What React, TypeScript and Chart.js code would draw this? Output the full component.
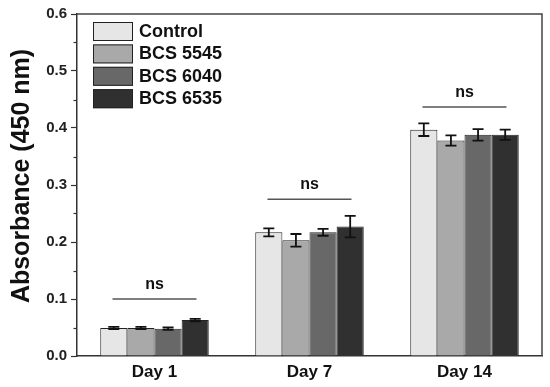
import React, { useEffect, useRef } from "react";
import { Chart, registerables } from "chart.js";

Chart.register(...registerables);

const categories = ["Day 1", "Day 7", "Day 14"];
const seriesNames = ["Control", "BCS 5545", "BCS 6040", "BCS 6535"];
const controlValues = [0.049, 0.217, 0.397];
const bcs5545Values = [0.049, 0.203, 0.378];
const bcs6040Values = [0.048, 0.217, 0.388];
const bcs6535Values = [0.063, 0.227, 0.388];
const controlErrors = [0.002, 0.007, 0.011];
const bcs5545Errors = [0.002, 0.011, 0.009];
const bcs6040Errors = [0.002, 0.006, 0.010];
const bcs6535Errors = [0.002, 0.019, 0.009];
const nsLevels = [0.1, 0.275, 0.437];
const nsLabels = ["ns", "ns", "ns"];
const yTicksMajor = [0, 0.1, 0.2, 0.3, 0.4, 0.5, 0.6];
const yTicksMinor = [0.05, 0.15, 0.25, 0.35, 0.45, 0.55];
const yTitle = "Absorbance (450 nm)";

const seriesValues = [controlValues, bcs5545Values, bcs6040Values, bcs6535Values];
const seriesErrors = [controlErrors, bcs5545Errors, bcs6040Errors, bcs6535Errors];
const fills = ["#e6e6e6", "#a9a9a9", "#686868", "#303030"];
const FONT = "'Liberation Sans', Arial, sans-serif";

const decorPlugin = {
  id: "decor",
  afterDatasetsDraw(chart: any) {
    const ctx = chart.ctx;
    const y = chart.scales.y;
    const x = chart.scales.x;
    ctx.save();
    ctx.strokeStyle = "#111";
    ctx.lineWidth = 1.8;
    chart.data.datasets.forEach((ds: any, di: number) => {
      const meta = chart.getDatasetMeta(di);
      meta.data.forEach((bar: any, i: number) => {
        const v = seriesValues[di][i];
        const e = seriesErrors[di][i];
        const yt = y.getPixelForValue(v + e);
        const yb = y.getPixelForValue(v - e);
        const cx = bar.x;
        const hw = 5.5;
        ctx.beginPath();
        ctx.moveTo(cx, yt);
        ctx.lineTo(cx, yb);
        ctx.moveTo(cx - hw, yt);
        ctx.lineTo(cx + hw, yt);
        ctx.moveTo(cx - hw, yb);
        ctx.lineTo(cx + hw, yb);
        ctx.stroke();
      });
    });
    ctx.restore();
    ctx.save();
    categories.forEach((c, i) => {
      const cx = x.getPixelForValue(i);
      const ly = y.getPixelForValue(nsLevels[i]);
      ctx.strokeStyle = "#555";
      ctx.lineWidth = 1.5;
      ctx.beginPath();
      ctx.moveTo(cx - 42, ly);
      ctx.lineTo(cx + 42, ly);
      ctx.stroke();
      ctx.fillStyle = "#111";
      ctx.font = `bold 16px ${FONT}`;
      ctx.textAlign = "center";
      ctx.textBaseline = "alphabetic";
      ctx.fillText(nsLabels[i], cx, ly - 10);
    });
    ctx.restore();
  },
  afterDraw(chart: any) {
    const ctx = chart.ctx;
    const a = chart.chartArea;
    const y = chart.scales.y;
    ctx.save();
    ctx.strokeStyle = "#444";
    ctx.lineWidth = 1.5;
    ctx.beginPath();
    ctx.moveTo(a.left, a.top);
    ctx.lineTo(a.right, a.top);
    ctx.lineTo(a.right, a.bottom);
    ctx.stroke();
    ctx.strokeStyle = "#333";
    ctx.lineWidth = 1.2;
    yTicksMinor.forEach((v) => {
      const py = Math.round(y.getPixelForValue(v)) + 0.5;
      ctx.beginPath();
      ctx.moveTo(a.left - 3.5, py);
      ctx.lineTo(a.left, py);
      ctx.stroke();
    });
    // y title
    ctx.save();
    ctx.translate(22, (a.top + a.bottom) / 2 - 9);
    ctx.rotate(-Math.PI / 2);
    ctx.font = `bold 25px ${FONT}`;
    ctx.fillStyle = "#111";
    ctx.textAlign = "center";
    ctx.textBaseline = "middle";
    ctx.fillText(yTitle, 0, 0);
    ctx.restore();
    // legend
    const lx = a.left + 16;
    const ly0 = a.top + 8;
    ctx.font = `bold 18px ${FONT}`;
    ctx.textBaseline = "middle";
    ctx.textAlign = "left";
    seriesNames.forEach((n, i) => {
      const by = ly0 + i * 22.4;
      ctx.fillStyle = fills[i];
      ctx.fillRect(lx, by, 40, 19);
      ctx.strokeStyle = "#222";
      ctx.lineWidth = 1;
      ctx.strokeRect(lx + 0.5, by + 0.5, 39, 18);
      ctx.fillStyle = "#111";
      ctx.fillText(n, lx + 46, by + 10);
    });
    ctx.restore();
  },
};

export default function App() {
  const ref = useRef<HTMLCanvasElement>(null);
  useEffect(() => {
    if (!ref.current) return;
    const chart = new Chart(ref.current, {
      type: "bar",
      data: {
        labels: categories,
        datasets: seriesNames.map((n, i) => ({
          label: n,
          data: seriesValues[i],
          backgroundColor: fills[i],
          borderColor: "#222",
          borderWidth: 1,
          categoryPercentage: 0.7,
          barPercentage: 1.0,
        })),
      },
      options: {
        responsive: false,
        animation: false,
        layout: { padding: { top: 14, right: 8, left: 0, bottom: 0 } },
        plugins: { legend: { display: false }, tooltip: { enabled: false } },
        scales: {
          x: {
            grid: { display: false, drawTicks: false },
            border: { display: true, color: "#333", width: 1.5 },
            ticks: {
              color: "#111",
              padding: 6,
              font: { family: FONT, weight: "bold", size: 17 },
            },
            afterFit(s: any) {
              s.height = 31;
            },
          },
          y: {
            min: 0,
            max: 0.6,
            afterBuildTicks(s: any) {
              s.ticks = yTicksMajor.map((v) => ({ value: v }));
            },
            grid: {
              display: true,
              drawOnChartArea: false,
              drawTicks: true,
              tickLength: 6,
              tickColor: "#333",
              tickWidth: 1.2,
            },
            border: { display: true, color: "#333", width: 1.5 },
            ticks: {
              color: "#222",
              padding: 4,
              font: { family: FONT, weight: "bold", size: 15 },
              callback: (v: any) => Number(v).toFixed(1),
            },
            title: { display: false },
            afterFit(s: any) {
              s.width = 77;
            },
          },
        },
      },
      plugins: [decorPlugin],
    });
    return () => chart.destroy();
  }, []);
  return (
    <div style={{ position: "absolute", left: 0, top: 0, width: 550, height: 387, background: "#fff" }}>
      <canvas ref={ref} width={550} height={387} />
    </div>
  );
}
